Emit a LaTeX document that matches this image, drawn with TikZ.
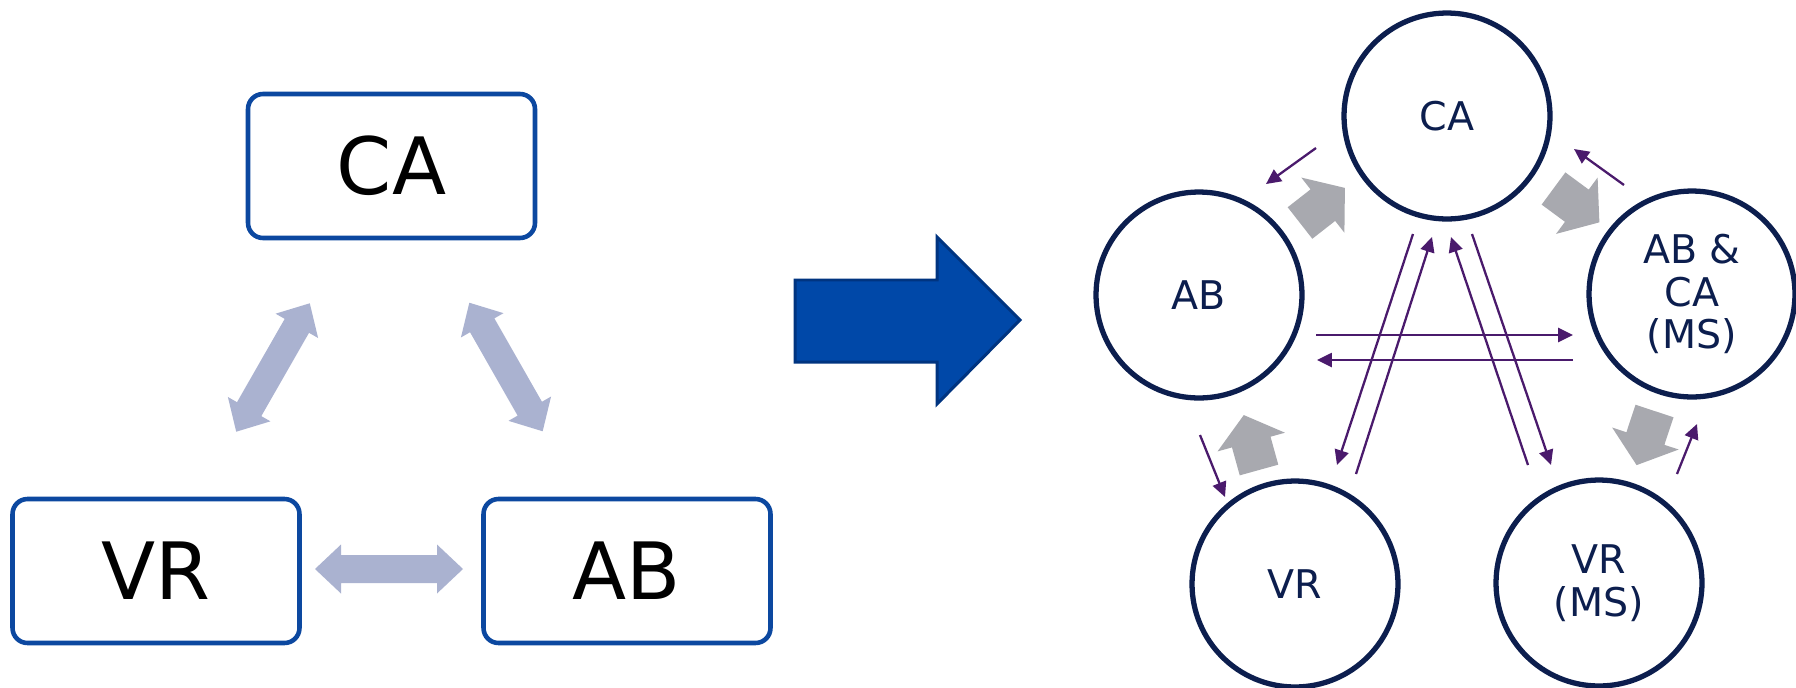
\documentclass[tikz,border=0pt]{standalone}
\usepackage{fontspec}
\setmainfont{DejaVu Sans}
\usetikzlibrary{arrows.meta}
\definecolor{boxblue}{RGB}{12,72,160}
\definecolor{navy}{RGB}{12,30,78}
\definecolor{arrowblue}{RGB}{0,72,168}
\definecolor{arrowedge}{RGB}{0,52,128}
\definecolor{lav}{RGB}{170,178,208}
\definecolor{greyarr}{RGB}{168,169,175}
\definecolor{purp}{RGB}{74,26,108}
\tikzset{
  lbox/.style={draw=boxblue, line width=2.6pt, rounded corners=8.5pt, fill=white,
    minimum width=5.74cm, minimum height=2.88cm, inner sep=0pt,
    font=\fontsize{45}{50}\selectfont, text=black},
  ring/.style={circle, draw=navy, line width=3pt, fill=white, minimum size=4.12cm,
    inner sep=0pt, align=center, text=navy, font=\fontsize{22.5}{24.2}\selectfont},
  flow/.style={draw=purp, line width=1.3pt, -{Triangle[length=8.5pt,width=8pt]}},
  greyblock/.style={fill=greyarr},
  lavblock/.style={fill=lav},
  bigarrow/.style={fill=arrowblue, draw=arrowedge, line width=1.7pt, line join=miter},
}
\newcommand{\blockarr}[3]{%
  \begin{scope}[shift={(#1,#2)},rotate=#3]
    \fill[greyblock] (0,-20) -- (29,-20) -- (29,-35) -- (57,0) -- (29,35) -- (29,20) -- (0,20) -- cycle;
  \end{scope}}
\newcommand{\dblarr}[3]{%
  \begin{scope}[shift={(#1,#2)},rotate=#3]
    \fill[lavblock] (-74,0) -- (-48,24.5) -- (-48,14) -- (48,14) -- (48,24.5) -- (74,0)
      -- (48,-24.5) -- (48,-14) -- (-48,-14) -- (-48,-24.5) -- cycle;
  \end{scope}}
\begin{document}
\begin{tikzpicture}[x=0.02cm,y=-0.02cm]
\useasboundingbox (0,0) rectangle (1796,687);
\fill[white] (0,0) rectangle (1796,687);

% left triangle of boxes
\node[lbox] (bCA) at (391.5,166) {CA};
\node[lbox] (bVR) at (156,571) {VR};
\node[lbox] (bAB) at (627,571) {AB};
\dblarr{273}{367.5}{60.2}
\dblarr{506}{367}{-60.3}
\dblarr{389}{569}{0}

% big blue arrow
\draw[bigarrow] (795,280) -- (937,280) -- (937,237) -- (1020,320) -- (937,404) -- (937,362) -- (795,362) -- cycle;

% right: circles
\node[ring] (cCA) at (1447,116) {CA};
\node[ring] (cAB) at (1199,295) {AB};
\node[ring] (cABCA) at (1692,294) {AB \&\\CA\\(MS)};
\node[ring] (cVR) at (1295,584) {VR};
\node[ring] (cVRMS) at (1599,583) {VR\\(MS)};

% grey block arrows
\blockarr{1300}{223}{38}
\blockarr{1553.5}{188.5}{-36.4}
\blockarr{1654.5}{411}{-108.3}
\blockarr{1259}{470}{105.5}

% purple flows
\coordinate (f1s) at (1316,148); \coordinate (f1e) at (1266,184);
\coordinate (f2s) at (1624,185); \coordinate (f2e) at (1574,149);
\coordinate (f3s) at (1316,335); \coordinate (f3e) at (1573,335);
\coordinate (f4s) at (1573,360); \coordinate (f4e) at (1317,360);
\coordinate (f5s) at (1413,234); \coordinate (f5e) at (1337,465);
\coordinate (f6s) at (1356,474); \coordinate (f6e) at (1432,237);
\coordinate (f7s) at (1528,465); \coordinate (f7e) at (1451,237);
\coordinate (f8s) at (1472,234); \coordinate (f8e) at (1551,465);
\coordinate (f9s) at (1200,435); \coordinate (f9e) at (1225,497);
\coordinate (f10s) at (1677,474); \coordinate (f10e) at (1697,424);
\draw[flow] (f1s) -- (f1e);
\draw[flow] (f2s) -- (f2e);
\draw[flow] (f3s) -- (f3e);
\draw[flow] (f4s) -- (f4e);
\draw[flow] (f5s) -- (f5e);
\draw[flow] (f6s) -- (f6e);
\draw[flow] (f7s) -- (f7e);
\draw[flow] (f8s) -- (f8e);
\draw[flow] (f9s) -- (f9e);
\draw[flow] (f10s) -- (f10e);
\end{tikzpicture}
\end{document}
